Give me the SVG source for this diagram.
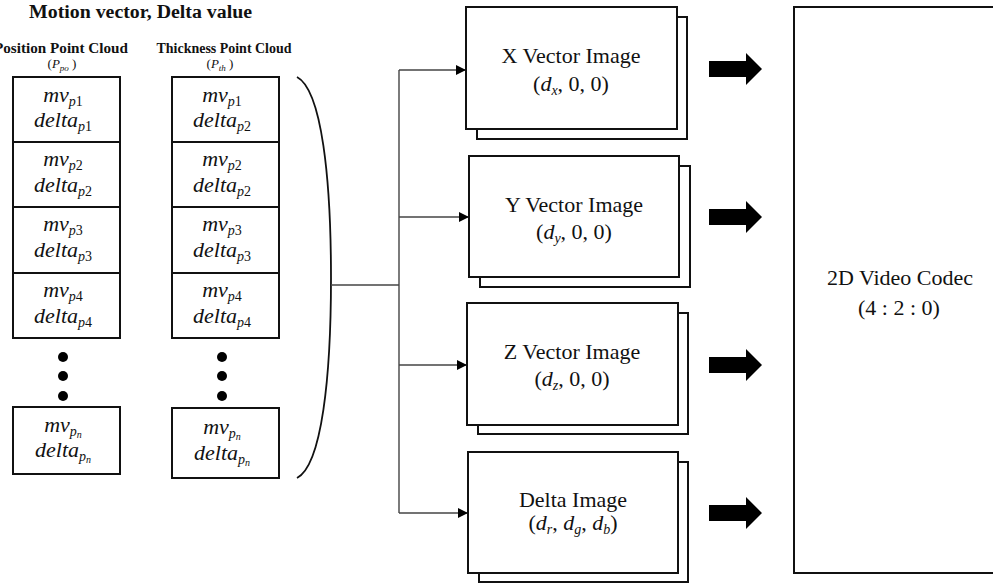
<svg xmlns="http://www.w3.org/2000/svg" width="993" height="583" viewBox="0 0 993 583">
  <defs>
    <style>
      text { font-family: "Liberation Serif", "Times New Roman", serif; fill: #111; }
      .hd { font-weight: bold; }
      .lbl { font-size: 22px; }
      .m { font-size: 22px; font-style: italic; }
      .si { font-size: 14px; font-style: italic; }
      .sn { font-size: 14px; }
      .sn2 { font-size: 10px; font-style: italic; }
      .cell { fill: #fff; stroke: #111; stroke-width: 2; }
      .sheet { fill: #fff; stroke: #111; stroke-width: 2; }
      .wire { fill: none; stroke: #444; stroke-width: 1.4; }
      .brace { fill: none; stroke: #111; stroke-width: 1.8; }
      .dot { fill: #000; }
      .block { fill: #000; }
    </style>
    <marker id="tri" viewBox="0 0 10 10" refX="10" refY="5" markerWidth="10" markerHeight="10" markerUnits="userSpaceOnUse" orient="auto">
      <path d="M0,0 L10,5 L0,10 Z" fill="#000"/>
    </marker>
  </defs>

  <!-- headings -->
  <g id="title">
    <text class="hd" x="29" y="18" font-size="18" textLength="223" lengthAdjust="spacingAndGlyphs">Motion vector, Delta value</text>
  </g>

  <!-- position point cloud column -->
  <g id="position-cloud">
    <text class="hd" x="128" y="53" font-size="14" text-anchor="end" textLength="134" lengthAdjust="spacingAndGlyphs">Position Point Cloud</text>
    <text x="62" y="68" text-anchor="middle" font-size="13">(<tspan font-style="italic">P</tspan><tspan font-size="9" font-style="italic" dy="3">po</tspan><tspan dy="-3"> )</tspan></text>
    <rect class="cell" x="13" y="77" width="107" height="65"/>
    <rect class="cell" x="13" y="142" width="107" height="65"/>
    <rect class="cell" x="13" y="207" width="107" height="66"/>
    <rect class="cell" x="13" y="273" width="107" height="65"/>
    <rect class="cell" x="13" y="407" width="107" height="67"/>
    <text x="63" y="102" text-anchor="middle"><tspan class="m">mv</tspan><tspan class="si" dy="4">p</tspan><tspan class="sn">1</tspan></text>
    <text x="63" y="127" text-anchor="middle"><tspan class="m">delta</tspan><tspan class="si" dy="4">p</tspan><tspan class="sn">1</tspan></text>
    <text x="63" y="166" text-anchor="middle"><tspan class="m">mv</tspan><tspan class="si" dy="4">p</tspan><tspan class="sn">2</tspan></text>
    <text x="63" y="192" text-anchor="middle"><tspan class="m">delta</tspan><tspan class="si" dy="4">p</tspan><tspan class="sn">2</tspan></text>
    <text x="63" y="231" text-anchor="middle"><tspan class="m">mv</tspan><tspan class="si" dy="4">p</tspan><tspan class="sn">3</tspan></text>
    <text x="63" y="257" text-anchor="middle"><tspan class="m">delta</tspan><tspan class="si" dy="4">p</tspan><tspan class="sn">3</tspan></text>
    <text x="63" y="297" text-anchor="middle"><tspan class="m">mv</tspan><tspan class="si" dy="4">p</tspan><tspan class="sn">4</tspan></text>
    <text x="63" y="323" text-anchor="middle"><tspan class="m">delta</tspan><tspan class="si" dy="4">p</tspan><tspan class="sn">4</tspan></text>
    <circle class="dot" cx="63" cy="357" r="5"/>
    <circle class="dot" cx="63" cy="376" r="5"/>
    <circle class="dot" cx="63" cy="396" r="5"/>
    <text x="63" y="432" text-anchor="middle"><tspan class="m">mv</tspan><tspan class="si" dy="4">p</tspan><tspan class="sn2" dy="2">n</tspan></text>
    <text x="63" y="457" text-anchor="middle"><tspan class="m">delta</tspan><tspan class="si" dy="4">p</tspan><tspan class="sn2" dy="2">n</tspan></text>
  </g>

  <!-- thickness point cloud column -->
  <g id="thickness-cloud">
    <text class="hd" x="224" y="53" font-size="14" text-anchor="middle" textLength="135" lengthAdjust="spacingAndGlyphs">Thickness Point Cloud</text>
    <text x="220" y="68" text-anchor="middle" font-size="13">(<tspan font-style="italic">P</tspan><tspan font-size="9" font-style="italic" dy="3">th</tspan><tspan dy="-3"> )</tspan></text>
    <rect class="cell" x="172" y="77" width="107" height="65"/>
    <rect class="cell" x="172" y="142" width="107" height="65"/>
    <rect class="cell" x="172" y="207" width="107" height="66"/>
    <rect class="cell" x="172" y="273" width="107" height="65"/>
    <rect class="cell" x="172" y="408" width="107" height="70"/>
    <text x="222" y="102" text-anchor="middle"><tspan class="m">mv</tspan><tspan class="si" dy="4">p</tspan><tspan class="sn">1</tspan></text>
    <text x="222" y="127" text-anchor="middle"><tspan class="m">delta</tspan><tspan class="si" dy="4">p</tspan><tspan class="sn">2</tspan></text>
    <text x="222" y="166" text-anchor="middle"><tspan class="m">mv</tspan><tspan class="si" dy="4">p</tspan><tspan class="sn">2</tspan></text>
    <text x="222" y="192" text-anchor="middle"><tspan class="m">delta</tspan><tspan class="si" dy="4">p</tspan><tspan class="sn">2</tspan></text>
    <text x="222" y="231" text-anchor="middle"><tspan class="m">mv</tspan><tspan class="si" dy="4">p</tspan><tspan class="sn">3</tspan></text>
    <text x="222" y="257" text-anchor="middle"><tspan class="m">delta</tspan><tspan class="si" dy="4">p</tspan><tspan class="sn">3</tspan></text>
    <text x="222" y="297" text-anchor="middle"><tspan class="m">mv</tspan><tspan class="si" dy="4">p</tspan><tspan class="sn">4</tspan></text>
    <text x="222" y="323" text-anchor="middle"><tspan class="m">delta</tspan><tspan class="si" dy="4">p</tspan><tspan class="sn">4</tspan></text>
    <circle class="dot" cx="222" cy="357" r="5"/>
    <circle class="dot" cx="222" cy="376" r="5"/>
    <circle class="dot" cx="222" cy="396" r="5"/>
    <text x="222" y="434" text-anchor="middle"><tspan class="m">mv</tspan><tspan class="si" dy="4">p</tspan><tspan class="sn2" dy="2">n</tspan></text>
    <text x="222" y="460" text-anchor="middle"><tspan class="m">delta</tspan><tspan class="si" dy="4">p</tspan><tspan class="sn2" dy="2">n</tspan></text>
  </g>

  <!-- connectors: grouping brace, trunk and branches -->
  <g id="connectors">
    <path class="brace" d="M297,77 C322,90 331,180 331,278 C331,376 322,465 297,478"/>
    <path class="wire" d="M331,285 H399"/>
    <path class="wire" d="M399,70 V513"/>
    <path class="wire" d="M399,70 H466" marker-end="url(#tri)"/>
    <path class="wire" d="M399,217 H469" marker-end="url(#tri)"/>
    <path class="wire" d="M399,365 H467" marker-end="url(#tri)"/>
    <path class="wire" d="M399,513 H468" marker-end="url(#tri)"/>
    <!-- block arrows into the codec -->
    <path class="block" d="M709,61 H746 V53 L762,69 L746,85 V77 H709 Z"/>
    <path class="block" d="M709,209 H746 V201 L762,217 L746,233 V225 H709 Z"/>
    <path class="block" d="M709,357 H746 V349 L762,365 L746,381 V373 H709 Z"/>
    <path class="block" d="M709,505 H746 V497 L762,513 L746,529 V521 H709 Z"/>
  </g>

  <!-- image stacks -->
  <g id="x-vector-image">
    <rect class="sheet" x="477" y="17" width="210" height="122"/>
    <rect class="sheet" x="466" y="7" width="211" height="122"/>
    <text class="lbl" x="571" y="63" text-anchor="middle">X Vector Image</text>
    <text class="lbl" x="571" y="91" text-anchor="middle">(<tspan class="m">d</tspan><tspan class="si" dy="4">x</tspan><tspan dy="-4">, 0, 0)</tspan></text>
  </g>
  <g id="y-vector-image">
    <rect class="sheet" x="480" y="166" width="210" height="121"/>
    <rect class="sheet" x="469" y="156" width="210" height="121"/>
    <text class="lbl" x="574" y="212" text-anchor="middle">Y Vector Image</text>
    <text class="lbl" x="574" y="239" text-anchor="middle">(<tspan class="m">d</tspan><tspan class="si" dy="4">y</tspan><tspan dy="-4">, 0, 0)</tspan></text>
  </g>
  <g id="z-vector-image">
    <rect class="sheet" x="478" y="313" width="210" height="121"/>
    <rect class="sheet" x="467" y="303" width="211" height="122"/>
    <text class="lbl" x="572" y="359" text-anchor="middle">Z Vector Image</text>
    <text class="lbl" x="572" y="386" text-anchor="middle">(<tspan class="m">d</tspan><tspan class="si" dy="4">z</tspan><tspan dy="-4">, 0, 0)</tspan></text>
  </g>
  <g id="delta-image">
    <rect class="sheet" x="479" y="462" width="209" height="120"/>
    <rect class="sheet" x="468" y="452" width="210" height="121"/>
    <text class="lbl" x="573" y="507" text-anchor="middle">Delta Image</text>
    <text class="lbl" x="573" y="530" text-anchor="middle">(<tspan class="m">d</tspan><tspan class="si" dy="4">r</tspan><tspan dy="-4">, </tspan><tspan class="m">d</tspan><tspan class="si" dy="4">g</tspan><tspan dy="-4">, </tspan><tspan class="m">d</tspan><tspan class="si" dy="4">b</tspan><tspan dy="-4">)</tspan></text>
  </g>

  <!-- codec -->
  <g id="video-codec">
    <rect class="sheet" x="794" y="7" width="210" height="566"/>
    <text class="lbl" x="900" y="285" text-anchor="middle">2D Video Codec</text>
    <text class="lbl" x="899" y="315" text-anchor="middle">(4 : 2 : 0)</text>
  </g>
</svg>
